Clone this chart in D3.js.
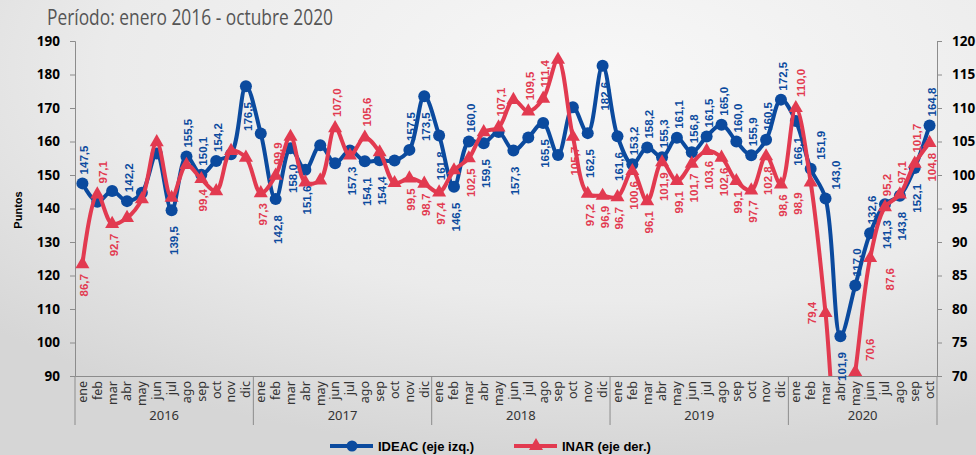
<!DOCTYPE html>
<html>
<head>
<meta charset="utf-8">
<script src="https://cdn.jsdelivr.net/npm/d3@7"></script>
<style>
body { margin: 0; }
svg { display: block; font-family: "Liberation Sans", Arial, sans-serif; }
</style>
</head>
<body>
<svg id="chart"></svg>
<script>
var months = ["ene", "feb", "mar", "abr", "may", "jun", "jul", "ago", "sep", "oct", "nov", "dic"];
var years = ["2016", "2017", "2018", "2019", "2020"];
var monthsPerYear = [12, 12, 12, 12, 10];

var ideac = [147.5, 142.0, 145.2, 142.2, 144.7, 156.4, 139.5, 155.5, 150.1, 154.2, 156.2, 176.5,
	162.4, 142.8, 158.0, 151.6, 158.9, 153.5, 157.3, 154.1, 154.4, 154.3, 157.5, 173.5,
	161.8, 146.5, 160.0, 159.5, 162.8, 157.3, 161.2, 165.5, 156.0, 170.2, 162.5, 182.6,
	161.6, 153.2, 158.2, 155.3, 161.1, 156.8, 161.5, 165.0, 160.0, 155.9, 160.5, 172.5,
	166.1, 151.9, 143.0, 101.9, 117.0, 132.6, 141.3, 143.8, 152.1, 164.8];

var inar = [86.7, 97.1, 92.7, 93.6, 96.4, 104.9, 96.6, 101.5, 99.4, 97.6, 103.6, 102.6,
	97.3, 99.9, 105.7, 98.9, 99.2, 107.0, 102.9, 105.6, 103.4, 98.8, 99.5, 98.7,
	97.4, 100.7, 102.5, 106.4, 107.1, 111.2, 109.5, 111.4, 117.2, 105.7, 97.2, 96.9,
	96.7, 100.6, 96.1, 101.9, 99.1, 101.7, 103.6, 102.6, 99.1, 97.7, 102.8, 98.6,
	110.0, 98.9, 79.4, 55.0, 70.6, 87.6, 95.2, 97.1, 101.7, 104.8];

// label placement: a = above, b = below, l = left, number = x shift, "" = no label
var ideacLabels = ["a", "", "", "a", "", "", "b", "a", "a", "a", "", "b",
	"", "b", "b", "b", "", "", "b", "b", "b", "", "a", "b",
	"b", "b", "a", "b", "", "b", "", "b", "", "", "b", "b",
	"b", "a", "a", "a", "a", "a", "a", "a", "a", "a", "a", "a",
	"b", "a10", "a10", "b", "a", "a", "b", "b", "b", "a"];

var inarLabels = ["b", "a6", "b", "", "", "", "", "", "b", "", "", "",
	"b", "a", "", "", "", "a", "", "a", "", "", "b", "b",
	"b", "", "b", "", "a", "", "a", "a", "", "b", "b", "b",
	"b", "b", "b", "b", "b", "b", "b", "b", "b", "b", "b", "b",
	"a5", "b-13", "l", "", "a15", "b20", "a", "a", "a", "b"];

var leftTicks = [90, 100, 110, 120, 130, 140, 150, 160, 170, 180, 190];
var rightTicks = [70, 75, 80, 85, 90, 95, 100, 105, 110, 115, 120];

var blue = "#0b4a9e";
var red = "#e23a50";

var width = 976, height = 455;
var plot = { left: 75, right: 937, top: 41, bottom: 376 };

var cats = [];
years.forEach(function (y, yi) {
	for (var m = 0; m < monthsPerYear[yi]; m++) cats.push({ year: y, month: months[m] });
});

var svg = d3.select("#chart").attr("width", width).attr("height", height);

var defs = svg.append("defs");
var grad = defs.append("radialGradient").attr("id", "bg")
	.attr("cx", "62%").attr("cy", "15%").attr("r", "85%");
grad.append("stop").attr("offset", "0%").attr("stop-color", "#f7f7f7");
grad.append("stop").attr("offset", "60%").attr("stop-color", "#ebebeb");
grad.append("stop").attr("offset", "100%").attr("stop-color", "#d6d6d6");
defs.append("clipPath").attr("id", "clip").append("rect")
	.attr("x", 0).attr("y", 0).attr("width", width).attr("height", plot.bottom);

svg.append("rect").attr("width", width).attr("height", height).attr("fill", "url(#bg)");

svg.append("text")
	.attr("x", 47).attr("y", 25)
	.attr("fill", "#555")
	.attr("textLength", 286).attr("lengthAdjust", "spacingAndGlyphs")
	.style("font-family", "'Open Sans', sans-serif")
	.style("font-size", "21px")
	.text("Período: enero 2016 - octubre 2020");

var x = d3.scaleBand().domain(d3.range(cats.length)).range([plot.left, plot.right]);
var cx = function (i) { return x(i) + x.bandwidth() / 2; };
var yL = d3.scaleLinear().domain([90, 190]).range([plot.bottom, plot.top]);
var yR = d3.scaleLinear().domain([70, 120]).range([plot.bottom, plot.top]);

// axes
var gL = svg.append("g").attr("transform", "translate(" + plot.left + ",0)")
	.call(d3.axisLeft(yL).tickValues(leftTicks).tickSize(5).tickPadding(10));
var gR = svg.append("g").attr("transform", "translate(" + plot.right + ",0)")
	.call(d3.axisRight(yR).tickValues(rightTicks).tickSize(5).tickPadding(10));
[gL, gR].forEach(function (g) {
	g.select(".domain").attr("stroke", "#8c8c8c");
	g.selectAll(".tick line").attr("stroke", "#8c8c8c");
	g.selectAll(".tick text").attr("fill", "#000")
		.style("font-size", "13.5px").style("font-weight", "bold")
		.style("font-family", "'Open Sans', sans-serif");
});

var gX = svg.append("g").attr("transform", "translate(0," + plot.bottom + ")")
	.call(d3.axisBottom(x).tickSize(0).tickFormat(function (i) { return cats[i].month; }));
gX.select(".domain").attr("stroke", "#8c8c8c");
gX.selectAll(".tick text")
	.attr("transform", "rotate(-90)")
	.attr("x", -5).attr("y", 0).attr("dy", "0.35em")
	.attr("text-anchor", "end")
	.attr("fill", "#333")
	.style("font-size", "12.5px")
	.style("font-family", "'Noto Sans', sans-serif");

// year separators and labels
var start = 0;
var bounds = [0];
monthsPerYear.forEach(function (n) { start += n; bounds.push(start); });
svg.append("g").selectAll("line").data(bounds).enter().append("line")
	.attr("x1", function (b) { return b < cats.length ? x(b) : plot.right; })
	.attr("x2", function (b) { return b < cats.length ? x(b) : plot.right; })
	.attr("y1", plot.bottom).attr("y2", 425)
	.attr("stroke", "#8c8c8c");
svg.append("g").selectAll("text").data(years).enter().append("text")
	.attr("x", function (y, i) {
		var x0 = x(bounds[i]);
		var x1 = bounds[i + 1] < cats.length ? x(bounds[i + 1]) : plot.right;
		return (x0 + x1) / 2;
	})
	.attr("y", 420)
	.attr("text-anchor", "middle")
	.attr("fill", "#333")
	.style("font-size", "13px")
	.style("font-family", "'Noto Sans', sans-serif")
	.text(function (d) { return d; });

svg.append("text")
	.attr("transform", "translate(22,210) rotate(-90)")
	.attr("text-anchor", "middle")
	.style("font-size", "11px").style("font-weight", "bold")
	.text("Puntos");

// lines
var curve = d3.curveCatmullRom.alpha(0.5);
var lineL = d3.line().x(function (d, i) { return cx(i); }).y(function (d) { return yL(d); }).curve(curve);
var lineR = d3.line().x(function (d, i) { return cx(i); }).y(function (d) { return yR(d); }).curve(curve);

svg.append("path").datum(ideac)
	.attr("d", lineL).attr("fill", "none").attr("stroke", blue).attr("stroke-width", 4);
svg.selectAll("circle.ideac").data(ideac).enter().append("circle")
	.classed("ideac", true)
	.attr("cx", function (d, i) { return cx(i); })
	.attr("cy", function (d) { return yL(d); })
	.attr("r", 6).attr("fill", blue);

var gRed = svg.append("g").attr("clip-path", "url(#clip)");
gRed.append("path").datum(inar)
	.attr("d", lineR).attr("fill", "none").attr("stroke", red).attr("stroke-width", 4);
var tri = d3.symbol().type(d3.symbolTriangle).size(85);
gRed.selectAll("path.inar").data(inar).enter().append("path")
	.classed("inar", true)
	.attr("transform", function (d, i) { return "translate(" + cx(i) + "," + yR(d) + ")"; })
	.attr("d", tri).attr("fill", red);

// data labels
function fmt(v) { return v.toFixed(1).replace(".", ","); }
function addLabels(values, codes, scale, color, gapAbove, gapBelow) {
	var g = svg.append("g");
	values.forEach(function (v, i) {
		var code = codes[i];
		if (!code) return;
		var pos = code[0];
		var dx = code.length > 1 ? +code.slice(1) : 2;
		var px = cx(i) + dx, py = scale(v), anchor;
		if (pos === "a") { py -= gapAbove; anchor = "start"; }
		else if (pos === "b") { py += gapBelow; anchor = "end"; }
		else { px = cx(i) - 14; anchor = "middle"; }
		g.append("text")
			.attr("transform", "translate(" + px + "," + py + ") rotate(-90)")
			.attr("text-anchor", anchor)
			.attr("dy", "0.35em")
			.attr("fill", color)
			.style("font-size", "11.5px").style("font-weight", "bold")
			.text(fmt(v));
	});
}
addLabels(ideac, ideacLabels, yL, blue, 9, 16);
addLabels(inar, inarLabels, yR, red, 11, 10);

// legend
var legend = svg.append("g").attr("transform", "translate(0,446)");
legend.append("line").attr("x1", 330).attr("x2", 373).attr("stroke", blue).attr("stroke-width", 4);
legend.append("circle").attr("cx", 352).attr("r", 5.5).attr("fill", blue);
legend.append("text").attr("x", 378).attr("dy", "0.35em")
	.style("font-size", "13px").style("font-weight", "bold").text("IDEAC (eje izq.)");
legend.append("line").attr("x1", 514).attr("x2", 557).attr("stroke", red).attr("stroke-width", 4);
legend.append("path").attr("transform", "translate(536,0)").attr("d", tri).attr("fill", red);
legend.append("text").attr("x", 562).attr("dy", "0.35em")
	.style("font-size", "13px").style("font-weight", "bold").text("INAR (eje der.)");
</script>
</body>
</html>
